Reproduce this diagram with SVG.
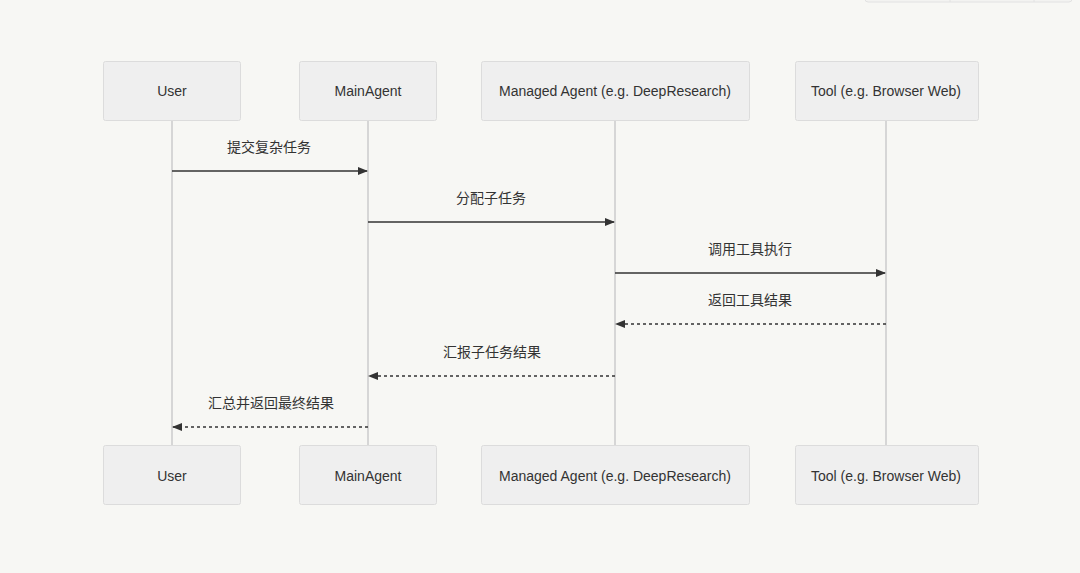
<svg xmlns="http://www.w3.org/2000/svg" width="1080" height="573" viewBox="0 0 1080 573">
<style>
.box{fill:#efefef;stroke:#dcdcdc;stroke-width:1}
.t{font-family:"Liberation Sans","Noto Sans CJK SC",sans-serif;font-size:14px;fill:#333;text-anchor:middle}
.life{stroke:#d6d6d6;stroke-width:2}
.msg{stroke:#333;stroke-width:1.5;fill:none}
.dash{stroke-dasharray:3,3}
</style>
<defs><marker id="ah" markerWidth="10" markerHeight="10" refX="9" refY="5" orient="auto" markerUnits="userSpaceOnUse"><path d="M0,1 L10,5 L0,9 Z" fill="#333"/></marker></defs>
<rect width="1080" height="573" fill="#f7f7f4"/>
<rect x="865" y="-10" width="207" height="12" rx="3" fill="#f3f3f1" stroke="#e2e2e2"/>
<line x1="950" y1="-10" x2="950" y2="2" stroke="#e2e2e2"/><line x1="1034" y1="-10" x2="1034" y2="2" stroke="#e2e2e2"/>
<g id="lifelines">
<line class="life" x1="172" y1="120" x2="172" y2="445"/>
<line class="life" x1="368" y1="120" x2="368" y2="445"/>
<line class="life" x1="615" y1="120" x2="615" y2="445"/>
<line class="life" x1="886" y1="120" x2="886" y2="445"/>
</g>
<g id="user-top"><rect class="box" x="103.5" y="61.5" width="137" height="59" rx="2"/><text class="t" x="172" y="96">User</text></g>
<g id="main-top"><rect class="box" x="299.5" y="61.5" width="137" height="59" rx="2"/><text class="t" x="368" y="96">MainAgent</text></g>
<g id="managed-top"><rect class="box" x="481.5" y="61.5" width="268" height="59" rx="2"/><text class="t" x="615" y="96">Managed Agent (e.g. DeepResearch)</text></g>
<g id="tool-top"><rect class="box" x="795.5" y="61.5" width="183" height="59" rx="2"/><text class="t" x="886" y="96">Tool (e.g. Browser Web)</text></g>
<g id="user-bot"><rect class="box" x="103.5" y="445.5" width="137" height="59" rx="2"/><text class="t" x="172" y="481">User</text></g>
<g id="main-bot"><rect class="box" x="299.5" y="445.5" width="137" height="59" rx="2"/><text class="t" x="368" y="481">MainAgent</text></g>
<g id="managed-bot"><rect class="box" x="481.5" y="445.5" width="268" height="59" rx="2"/><text class="t" x="615" y="481">Managed Agent (e.g. DeepResearch)</text></g>
<g id="tool-bot"><rect class="box" x="795.5" y="445.5" width="183" height="59" rx="2"/><text class="t" x="886" y="481">Tool (e.g. Browser Web)</text></g>
<g id="connectors">
<line class="msg" x1="172" y1="171" x2="367" y2="171" marker-end="url(#ah)"/>
<text class="t" x="269" y="152">提交复杂任务</text>
<line class="msg" x1="368" y1="222" x2="614" y2="222" marker-end="url(#ah)"/>
<text class="t" x="491" y="203">分配子任务</text>
<line class="msg" x1="615" y1="273" x2="885" y2="273" marker-end="url(#ah)"/>
<text class="t" x="750" y="254">调用工具执行</text>
<line class="msg dash" x1="886" y1="324" x2="616" y2="324" marker-end="url(#ah)"/>
<text class="t" x="750" y="305">返回工具结果</text>
<line class="msg dash" x1="615" y1="376" x2="369" y2="376" marker-end="url(#ah)"/>
<text class="t" x="492" y="357">汇报子任务结果</text>
<line class="msg dash" x1="368" y1="427" x2="173" y2="427" marker-end="url(#ah)"/>
<text class="t" x="271" y="408">汇总并返回最终结果</text>
</g>
</svg>
